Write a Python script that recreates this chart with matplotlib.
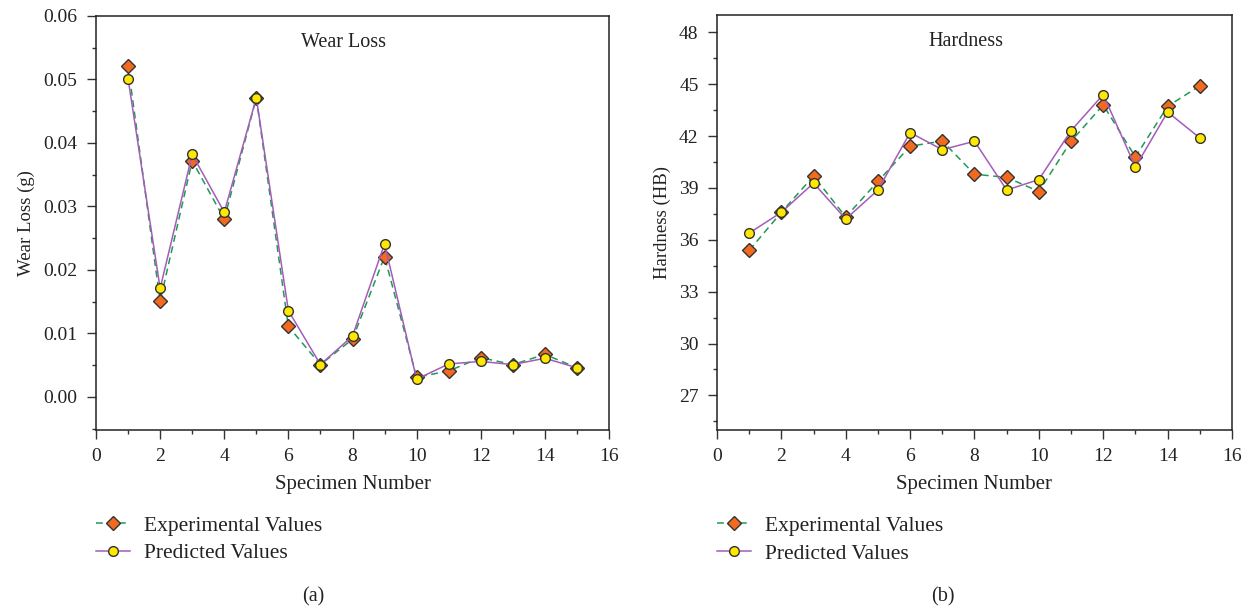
import matplotlib
matplotlib.use("Agg")
import matplotlib.pyplot as plt
from matplotlib.ticker import MultipleLocator

plt.rcParams["font.family"] = ["Liberation Serif", "DejaVu Serif"]

# Data
specimen = list(range(1, 16))

wear_exp = [0.0521, 0.0151, 0.0372, 0.0280, 0.0471, 0.0111, 0.0051, 0.0091,
            0.0221, 0.0031, 0.0041, 0.0062, 0.0051, 0.0067, 0.0046]
wear_pred = [0.0501, 0.0171, 0.0382, 0.0291, 0.0471, 0.0136, 0.0051, 0.0096,
             0.0241, 0.0028, 0.0052, 0.0056, 0.0051, 0.0061, 0.0046]

hard_exp = [35.39, 37.59, 39.69, 37.32, 39.38, 41.41, 41.71, 39.79,
            39.61, 38.79, 41.70, 43.80, 40.79, 43.72, 44.90]
hard_pred = [36.39, 37.59, 39.28, 37.20, 38.88, 42.20, 41.21, 41.70,
             38.88, 39.48, 42.31, 44.40, 40.21, 43.39, 41.89]

# Styles
green = "#1f9a55"
purple = "#a45cb8"
orange = "#f26a1f"
yellow = "#ffe800"
ink = "#222222"

fig = plt.figure(figsize=(12.52, 6.12), dpi=100)
ax1 = fig.add_axes([0.0767, 0.2974, 0.4097, 0.6765])
ax2 = fig.add_axes([0.5727, 0.2974, 0.4113, 0.6781])


def draw(ax, exp, pred, title, ylabel, ylim, ymajor, yminor, fmt):
    ax.plot(specimen, exp, linestyle=(0, (4.5, 3)), color=green, lw=1.1,
            marker="D", markersize=7.2, markerfacecolor=orange,
            markeredgecolor="#333333", markeredgewidth=1.0,
            label="Experimental Values")
    ax.plot(specimen, pred, linestyle="-", color=purple, lw=1.1,
            marker="o", markersize=7.0, markerfacecolor=yellow,
            markeredgecolor="#333333", markeredgewidth=1.0,
            label="Predicted Values")
    ax.set_xlim(0, 16)
    ax.set_ylim(*ylim)
    ax.xaxis.set_major_locator(MultipleLocator(2))
    ax.xaxis.set_minor_locator(MultipleLocator(1))
    ax.yaxis.set_major_locator(MultipleLocator(ymajor))
    ax.yaxis.set_minor_locator(MultipleLocator(yminor))
    ax.yaxis.set_major_formatter(fmt)
    ax.tick_params(which="both", direction="out", top=False, right=False,
                   labelsize=14, color="#333333", labelcolor=ink)
    ax.tick_params(which="major", length=6.3, width=1, pad=7)
    ax.tick_params(which="minor", length=3.2, width=1)
    for s in ax.spines.values():
        s.set_color(ink)
        s.set_linewidth(1.1)
    ax.set_xlabel("Specimen Number", fontsize=15, color=ink, labelpad=7)
    ax.set_ylabel(ylabel, fontsize=13.5, color=ink, labelpad=6)
    ax.text(0.483, 0.935, title, transform=ax.transAxes, ha="center",
            va="center", fontsize=14.5, color=ink)
    leg = ax.legend(loc="upper left", bbox_to_anchor=(0.0, -0.207),
                    frameon=False, fontsize=15.5, handlelength=1.6,
                    handletextpad=0.65, labelspacing=0.35, borderpad=0,
                    borderaxespad=0)
    for t in leg.get_texts():
        t.set_color(ink)


draw(ax1, wear_exp, wear_pred, "Wear Loss", "Wear Loss (g)",
     (-0.0052, 0.06), 0.01, 0.005, "{x:.2f}")
draw(ax2, hard_exp, hard_pred, "Hardness", "Hardness (HB)",
     (25, 49), 3, 1.5, "{x:.0f}")

fig.text(0.25, 0.0245, "(a)", ha="center", va="center", fontsize=14.5,
         color=ink)
fig.text(0.753, 0.0245, "(b)", ha="center", va="center", fontsize=14.5,
         color=ink)

fig.savefig("out.png", dpi=100)
